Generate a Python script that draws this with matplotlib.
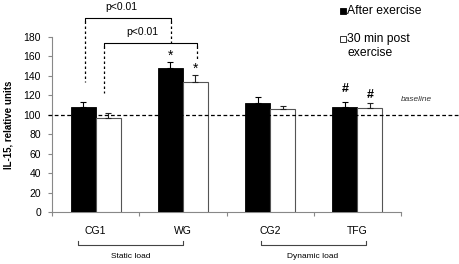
import matplotlib
matplotlib.use("Agg")
import matplotlib.pyplot as plt
from matplotlib.patches import Rectangle
import numpy as np

plt.rcParams['font.family'] = ['Liberation Sans', 'DejaVu Sans']

categories = ["CG1", "WG", "CG2", "TFG"]
after_ex = [108, 148, 112, 108]
after_err = [5.5, 6.5, 6.5, 5.5]
post30 = [97, 134, 106, 107]
post30_err = [4.5, 6.5, 3.5, 5]
series_labels = ["After exercise", "30 min post\nexercise"]
yticks = [0, 20, 40, 60, 80, 100, 120, 140, 160, 180]

W, H = 459, 264
fig = plt.figure(figsize=(W/100, H/100), dpi=100)
ax = fig.add_axes([52/W, (H-212)/H, (401-52)/W, (212-37)/H])

x = np.arange(len(categories))
bw = 0.287
b1 = ax.bar(x - bw/2, after_ex, bw, color='black', edgecolor='black', linewidth=0.6,
            yerr=[np.zeros(4), after_err], error_kw=dict(ecolor='black', elinewidth=0.8, capsize=2.2, capthick=0.8),
            label=series_labels[0], zorder=3)
b2 = ax.bar(x + bw/2, post30, bw, color='white', edgecolor='#555555', linewidth=0.8,
            yerr=[np.zeros(4), post30_err], error_kw=dict(ecolor='#222222', elinewidth=0.8, capsize=2.2, capthick=0.8),
            label=series_labels[1], zorder=3)

ax.set_xlim(-0.5, 3.5)
ax.set_ylim(0, 180)
ax.set_yticks(yticks)
ax.set_xticks(x)
ax.set_xticklabels(categories, fontsize=7.5)
ax.set_xticks(np.arange(-0.5, 3.6, 1), minor=True)
ax.tick_params(axis='x', which='major', length=0, pad=10)
ax.tick_params(axis='x', which='minor', length=3, direction='out', color='#888888', width=0.8)
ax.tick_params(axis='y', length=3, direction='out', color='#888888', width=0.8, labelsize=7.5, pad=5)
for s in ['top', 'right']:
    ax.spines[s].set_visible(False)
for s in ['left', 'bottom']:
    ax.spines[s].set_color('#888888')
    ax.spines[s].set_linewidth(0.8)

ax.set_ylabel("IL-15, relative units", fontsize=7, fontweight='bold', labelpad=7)

# baseline
ax.plot([-0.546, 4.165], [100, 100], ls=(0, (3, 2)), color='black', lw=0.9, clip_on=False, zorder=4)
ax.text(3.68, 116, "baseline", fontsize=6, style='italic', ha='center', va='center', color='#333333')

# significance brackets
def bracket(x0, x1, y, h=3):
    ax.plot([x0, x0, x1, x1], [y - h, y, y, y - h], color='black', lw=0.8, clip_on=False)

bracket(-0.122, 0.864, 199.5)
ax.plot([-0.122, -0.122], [196, 134], ls=(0, (2, 2)), color='black', lw=0.9, clip_on=False)
ax.plot([0.864, 0.864], [196, 171], ls=(0, (2, 2)), color='black', lw=0.9, clip_on=False)
ax.text(0.30, 211, "p<0.01", fontsize=7.5, ha='center', va='center')

bracket(0.096, 1.162, 174)
ax.plot([0.096, 0.096], [170.5, 122], ls=(0, (2, 2)), color='black', lw=0.9, clip_on=False)
ax.plot([1.162, 1.162], [170.5, 155], ls=(0, (2, 2)), color='black', lw=0.9, clip_on=False)
ax.text(0.53, 185, "p<0.01", fontsize=7.5, ha='center', va='center')

ax.text(1 - bw/2, 161, "*", fontsize=10, ha='center', va='center')
ax.text(1 + bw/2, 147, "*", fontsize=10, ha='center', va='center')
ax.text(3 - bw/2, 126, "#", fontsize=9, fontweight='bold', ha='center', va='center')
ax.text(3 + bw/2, 120, "#", fontsize=9, fontweight='bold', ha='center', va='center')

# group brackets
def gbracket(x0, x1, y, h=4):
    ax.plot([x0, x0, x1, x1], [y + h, y, y, y + h], color='#444444', lw=0.8, clip_on=False)

gbracket(-0.2, 1.0, -34)
ax.text(0.40, -46, "Static load", fontsize=6, ha='center', va='center')
gbracket(1.895, 3.1, -34)
ax.text(2.49, -46, "Dynamic load", fontsize=6, ha='center', va='center')

# legend (manual, Excel-like)
def fx(px):
    return px / W
def fy(py):
    return 1 - py / H

fig.patches.append(Rectangle((fx(339.5), fy(14)), 6/W, 6/H, transform=fig.transFigure,
                             facecolor='black', edgecolor='black', linewidth=0.6))
fig.text(fx(347), fy(11.5), series_labels[0], fontsize=8.7, ha='left', va='center')
fig.patches.append(Rectangle((fx(339.5), fy(42)), 6/W, 6/H, transform=fig.transFigure,
                             facecolor='white', edgecolor='#333333', linewidth=0.7))
fig.text(fx(347), fy(33), series_labels[1], fontsize=8.7, ha='left', va='top', linespacing=1.2)

fig.savefig("out.png", dpi=100)
